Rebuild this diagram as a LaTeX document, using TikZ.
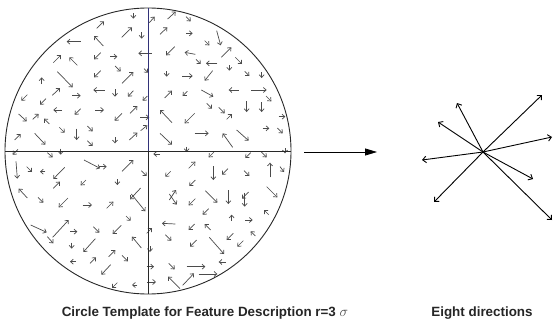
\documentclass[tikz,border=0pt]{standalone}
\usepackage{fontspec}
\setmainfont{Liberation Sans}
\usetikzlibrary{arrows.meta}
\definecolor{sgray}{RGB}{75,75,75}
\definecolor{navy}{RGB}{50,50,120}
\definecolor{dk}{RGB}{40,40,40}
\tikzset{
  sa/.style={draw=sgray, line width=0.7pt, -{Straight Barb[length=2.8pt,width=5pt]}},
  circline/.style={draw=dk, line width=0.9pt},
  dirarrow/.style={draw=black, line width=0.9pt, -{Straight Barb[length=3.5pt,width=6.5pt]}},
  mainarrow/.style={draw=black, line width=0.8pt, -{Triangle[length=12pt,width=7pt]}},
  captext/.style={anchor=base, font=\bfseries\fontsize{13.4}{16}\selectfont, text=black!85}
}
\begin{document}
\begin{tikzpicture}[x=1pt,y=-1pt]
\useasboundingbox (0,0) rectangle (553,324);
\fill[white] (0,0) rectangle (553,324);
% circle template
\coordinate (cc) at (148,151);
\coordinate (ctop) at (148,8);
\coordinate (cbot) at (148,294);
\coordinate (cleft) at (5,151);
\coordinate (cright) at (291,151);
\begin{scope}[x=1pt/3,y=-1pt/3]
\draw[sa] (400,40) -- (400,56);
\draw[sa] (290,85) -- (312,64);
\draw[sa] (365,112) -- (396,82);
\draw[sa] (425,96) -- (425,116);
\draw[sa] (242,125) -- (200,125);
\draw[sa] (310,138) -- (282,108);
\draw[sa] (160,188) -- (183,165);
\draw[sa] (232,196) -- (208,172);
\draw[sa] (302,158) -- (282,178);
\draw[sa] (330,170) -- (352,170);
\draw[sa] (455,160) -- (415,160);
\draw[sa] (345,198) -- (362,214);
\draw[sa] (366,250) -- (400,216);
\draw[sa] (432,206) -- (444,218);
\draw[sa] (302,212) -- (282,232);
\draw[sa] (125,252) -- (125,232);
\draw[sa] (172,215) -- (218,262);
\draw[sa] (157,286) -- (180,264);
\draw[sa] (216,287) -- (242,287);
\draw[sa] (314,270) -- (280,270);
\draw[sa] (345,268) -- (345,290);
\draw[sa] (400,272) -- (384,290);
\draw[sa] (442,288) -- (428,302);
\draw[sa] (82,284) -- (64,302);
\draw[sa] (138,296) -- (120,314);
\draw[sa] (186,330) -- (160,330);
\draw[sa] (242,326) -- (224,344);
\draw[sa] (286,330) -- (312,330);
\draw[sa] (366,340) -- (344,362);
\draw[sa] (390,340) -- (412,318);
\draw[sa] (420,352) -- (448,352);
\draw[sa] (56,342) -- (80,364);
\draw[sa] (98,358) -- (116,342);
\draw[sa] (148,372) -- (132,356);
\draw[sa] (178,382) -- (194,398);
\draw[sa] (230,386) -- (230,420);
\draw[sa] (262,378) -- (278,394);
\draw[sa] (262,422) -- (278,438);
\draw[sa] (345,412) -- (345,430);
\draw[sa] (388,420) -- (412,398);
\draw[sa] (422,392) -- (442,376);
\draw[sa] (44,420) -- (62,402);
\draw[sa] (104,400) -- (136,434);
\draw[sa] (54,448) -- (38,464);
\draw[sa] (142,458) -- (158,472);
\draw[sa] (182,446) -- (182,464);
% top right
\draw[sa] (448,68) -- (464,50);
\draw[sa] (503,57) -- (527,35);
\draw[sa] (558,50) -- (572,64);
\draw[sa] (480,103) -- (502,82);
\draw[sa] (558,100) -- (578,100);
\draw[sa] (650,92) -- (662,136);
\draw[sa] (614,122) -- (628,136);
\draw[sa] (524,140) -- (498,166);
\draw[sa] (586,163) -- (554,157);
\draw[sa] (588,178) -- (602,192);
\draw[sa] (652,190) -- (618,190);
\draw[sa] (664,172) -- (694,142);
\draw[sa] (706,172) -- (726,192);
\draw[sa] (688,196) -- (688,212);
\draw[sa] (638,212) -- (614,242);
\draw[sa] (500,214) -- (500,230);
\draw[sa] (546,228) -- (578,228);
\draw[sa] (734,214) -- (748,228);
\draw[sa] (785,216) -- (785,234);
\draw[sa] (494,294) -- (516,272);
\draw[sa] (562,274) -- (548,288);
\draw[sa] (604,270) -- (640,290);
\draw[sa] (716,270) -- (686,270);
\draw[sa] (754,270) -- (800,270);
\draw[sa] (798,288) -- (814,304);
\draw[sa] (620,310) -- (636,326);
\draw[sa] (656,322) -- (674,340);
\draw[sa] (680,358) -- (696,342);
\draw[sa] (740,304) -- (740,336);
\draw[sa] (785,306) -- (785,336);
\draw[sa] (516,368) -- (480,330);
\draw[sa] (584,340) -- (554,370);
\draw[sa] (584,400) -- (626,400);
\draw[sa] (698,442) -- (668,400);
\draw[sa] (710,390) -- (746,422);
\draw[sa] (480,400) -- (516,434);
\draw[sa] (560,440) -- (560,456);
\draw[sa] (788,385) -- (808,385);
\draw[sa] (836,350) -- (856,350);
\draw[sa] (832,384) -- (848,400);
\draw[sa] (855,444) -- (855,460);
% bottom left
\draw[sa] (48,484) -- (52,536);
\draw[sa] (80,500) -- (96,516);
\draw[sa] (136,515) -- (120,515);
\draw[sa] (194,502) -- (160,537);
\draw[sa] (252,480) -- (300,505);
\draw[sa] (298,500) -- (320,500);
\draw[sa] (366,514) -- (400,480);
\draw[sa] (424,512) -- (440,528);
\draw[sa] (160,565) -- (180,545);
\draw[sa] (258,540) -- (242,556);
\draw[sa] (352,537) -- (352,555);
\draw[sa] (82,594) -- (56,566);
\draw[sa] (114,592) -- (130,608);
\draw[sa] (204,594) -- (176,622);
\draw[sa] (248,615) -- (276,615);
\draw[sa] (320,625) -- (340,605);
\draw[sa] (422,564) -- (390,598);
\draw[sa] (394,582) -- (436,634);
\draw[sa] (378,648) -- (392,662);
\draw[sa] (92,675) -- (140,697);
\draw[sa] (158,712) -- (206,660);
\draw[sa] (210,695) -- (232,695);
\draw[sa] (280,680) -- (298,698);
\draw[sa] (364,676) -- (338,702);
\draw[sa] (142,710) -- (160,730);
\draw[sa] (215,728) -- (215,746);
\draw[sa] (286,716) -- (250,756);
\draw[sa] (424,744) -- (396,710);
\draw[sa] (326,770) -- (346,750);
\draw[sa] (366,766) -- (384,784);
\draw[sa] (228,785) -- (210,785);
\draw[sa] (270,790) -- (288,772);
\draw[sa] (332,794) -- (304,824);
\draw[sa] (352,848) -- (336,864);
\draw[sa] (412,855) -- (396,855);
% bottom right
\draw[sa] (480,462) -- (460,462);
\draw[sa] (642,456) -- (626,472);
\draw[sa] (752,458) -- (736,474);
\draw[sa] (784,456) -- (800,472);
\draw[sa] (512,514) -- (496,530);
\draw[sa] (566,505) -- (586,485);
\draw[sa] (640,498) -- (640,540);
\draw[sa] (684,506) -- (666,524);
\draw[sa] (732,512) -- (748,528);
\draw[sa] (810,532) -- (810,488);
\draw[sa] (840,500) -- (852,516);
\draw[sa] (586,540) -- (568,558);
\draw[sa] (508,600) -- (528,570);
\draw[sa] (508,582) -- (530,614);
\draw[sa] (586,596) -- (566,616);
\draw[sa] (616,572) -- (652,608);
\draw[sa] (685,570) -- (685,612);
\draw[sa] (746,576) -- (726,596);
\draw[sa] (734,578) -- (734,620);
\draw[sa] (800,560) -- (832,592);
\draw[sa] (626,626) -- (608,644);
\draw[sa] (526,672) -- (486,670);
\draw[sa] (584,672) -- (566,690);
\draw[sa] (632,690) -- (614,672);
\draw[sa] (695,662) -- (695,644);
\draw[sa] (736,660) -- (758,660);
\draw[sa] (806,644) -- (792,630);
\draw[sa] (440,700) -- (456,684);
\draw[sa] (496,704) -- (514,722);
\draw[sa] (590,720) -- (570,740);
\draw[sa] (628,712) -- (672,762);
\draw[sa] (700,700) -- (680,720);
\draw[sa] (730,722) -- (712,740);
\draw[sa] (766,708) -- (752,694);
\draw[sa] (450,738) -- (450,756);
\draw[sa] (440,800) -- (462,800);
\draw[sa] (506,790) -- (524,808);
\draw[sa] (560,800) -- (616,800);
\draw[sa] (596,822) -- (652,822);
\draw[sa] (678,786) -- (656,786);
\draw[sa] (442,846) -- (468,846);
\draw[sa] (540,866) -- (504,830);
\draw[sa] (548,856) -- (582,820);
\end{scope}
\draw[circline] (cc) circle[radius=143pt];
\draw[circline] (cleft) -- (cright);
\draw[draw=navy, line width=0.9pt] (ctop) -- (cc);
\draw[circline] (cc) -- (cbot);
% main arrow
\coordinate (ms) at (304,152);
\coordinate (me) at (377,152);
\draw[mainarrow] (ms) -- (me);
% eight directions
\coordinate (dc) at (483,152);
\coordinate (d1) at (542,95);
\coordinate (d2) at (457,103);
\coordinate (d3) at (438,122);
\coordinate (d4) at (552,137);
\coordinate (d5) at (422,160);
\coordinate (d6) at (533,179);
\coordinate (d7) at (434,202);
\coordinate (d8) at (552,220);
\foreach \d in {d1,d2,d3,d4,d5,d6,d7,d8} \draw[dirarrow] (dc) -- (\d);
% captions
\node[captext] (cap) at (205,316) {Circle Template for Feature Description r=3 {\mdseries\color{black!70}$\sigma$}};
\node[captext] (eight) at (482,316) {Eight directions};
\end{tikzpicture}
\end{document}
